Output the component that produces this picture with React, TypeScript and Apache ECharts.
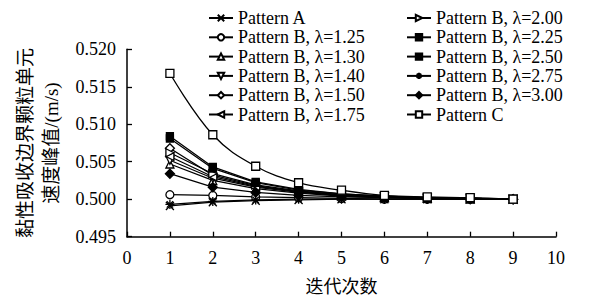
import React, { useEffect, useRef } from "react";
import * as echarts from "echarts";

const xValues = [1, 2, 3, 4, 5, 6, 7, 8, 9];

const seriesNames = [
  "Pattern A",
  "Pattern B, λ=1.25",
  "Pattern B, λ=1.30",
  "Pattern B, λ=1.40",
  "Pattern B, λ=1.50",
  "Pattern B, λ=1.75",
  "Pattern B, λ=2.00",
  "Pattern B, λ=2.25",
  "Pattern B, λ=2.50",
  "Pattern B, λ=2.75",
  "Pattern B, λ=3.00",
  "Pattern C",
];

const patternA = [0.4991, 0.4996, 0.4998, 0.4999, 0.5, 0.5, 0.5, 0.5, 0.5];
const b125 = [0.5006, 0.5005, 0.5003, 0.5002, 0.5001, 0.5, 0.5, 0.5, 0.5];
const b130 = [0.5047, 0.5025, 0.5014, 0.5008, 0.5004, 0.5002, 0.5001, 0.5, 0.5];
const b140 = [0.5052, 0.5028, 0.5016, 0.5009, 0.5005, 0.5003, 0.5001, 0.5001, 0.5];
const b150 = [0.5068, 0.5032, 0.5018, 0.501, 0.5005, 0.5003, 0.5001, 0.5001, 0.5];
const b175 = [0.5057, 0.503, 0.5017, 0.501, 0.5005, 0.5003, 0.5001, 0.5001, 0.5];
const b200 = [0.5062, 0.5034, 0.5019, 0.5011, 0.5006, 0.5003, 0.5002, 0.5001, 0.5];
const b225 = [0.5081, 0.5041, 0.5022, 0.5012, 0.5007, 0.5004, 0.5002, 0.5001, 0.5];
const b250 = [0.5084, 0.5043, 0.5023, 0.5013, 0.5007, 0.5004, 0.5002, 0.5001, 0.5];
const b275 = [0.4993, 0.4997, 0.4999, 0.5, 0.5, 0.5, 0.5, 0.5, 0.5];
const b300 = [0.5034, 0.5016, 0.5009, 0.5005, 0.5003, 0.5002, 0.5001, 0.5, 0.5];
const patternC = [0.5168, 0.5086, 0.5044, 0.5022, 0.5012, 0.5005, 0.5003, 0.5002, 0.5];

const seriesValues = [patternA, b125, b130, b140, b150, b175, b200, b225, b250, b275, b300, patternC];

const yTicks = { min: 0.495, max: 0.52, interval: 0.005 };
const xTicks = { min: 0, max: 10, interval: 1 };

const SERIF = "Liberation Serif";

const symbolDefs: { symbol: string; hollow: boolean; size: number }[] = [
  { symbol: "path://M0,0L10,10M10,0L0,10", hollow: false, size: 8 },
  { symbol: "circle", hollow: true, size: 8 },
  { symbol: "triangle", hollow: true, size: 8 },
  { symbol: "path://M0,0L10,0L5,9Z", hollow: true, size: 8 },
  { symbol: "diamond", hollow: true, size: 9 },
  { symbol: "path://M0,5L9,0L9,10Z", hollow: true, size: 8 },
  { symbol: "path://M9,5L0,0L0,10Z", hollow: true, size: 8 },
  { symbol: "rect", hollow: false, size: 7 },
  { symbol: "rect", hollow: false, size: 7 },
  { symbol: "path://M5,0L5,10M0,5L10,5M1.5,1.5L8.5,8.5M8.5,1.5L1.5,8.5", hollow: false, size: 9 },
  { symbol: "diamond", hollow: false, size: 9 },
  { symbol: "rect", hollow: true, size: 8 },
];

export default function App() {
  const ref = useRef<HTMLDivElement>(null);
  useEffect(() => {
    document.body.style.margin = "0";
    const styleEl = document.createElement("style");
    styleEl.textContent =
      '#chart-box text { font-family: "Liberation Serif", "Noto Sans CJK SC", serif !important; }';
    document.head.appendChild(styleEl);
    if (!ref.current) return;
    const chart = echarts.init(ref.current, null, { renderer: "svg" });

    const series = seriesNames.map((name, i) => {
      const d = symbolDefs[i];
      return {
        name,
        type: "line",
        data: xValues.map((x, j) => [x, seriesValues[i][j]]),
        symbol: d.symbol,
        symbolSize: d.size,
        smooth: i === 11 ? 0.4 : false,
        z: i === 11 ? 5 : 2,
        lineStyle: { color: "#000", width: 1.3 },
        itemStyle: {
          color: d.hollow ? "#fff" : "#000",
          borderColor: "#000",
          borderWidth: 1.3,
        },
      };
    });

    const legendBase = {
      orient: "vertical",
      top: 4,
      itemWidth: 24,
      itemHeight: 8,
      itemGap: 1.3,
      textStyle: { fontFamily: SERIF, fontSize: 18, lineHeight: 18, color: "#000" },
      selectedMode: false,
    };

    chart.setOption({
      animation: false,
      grid: { left: 127, right: 33, top: 49.3, bottom: 67.3 },
      legend: [
        { ...legendBase, data: seriesNames.slice(0, 6), left: 203 },
        { ...legendBase, data: seriesNames.slice(6), left: 401 },
      ],
      xAxis: {
        type: "value",
        min: xTicks.min,
        max: xTicks.max,
        interval: xTicks.interval,
        name: "迭代次数",
        nameLocation: "middle",
        nameGap: 41,
        nameTextStyle: { fontFamily: SERIF, fontSize: 18, color: "#000" },
        axisLine: { lineStyle: { color: "#000", width: 1.5 } },
        axisTick: { inside: true, length: 5, lineStyle: { color: "#000", width: 1.3 } },
        axisLabel: { fontFamily: SERIF, fontSize: 18, color: "#000", margin: 12 },
        splitLine: { show: false },
      },
      yAxis: {
        type: "value",
        min: yTicks.min,
        max: yTicks.max,
        interval: yTicks.interval,
        name: "黏性吸收边界颗粒单元\n速度峰值/(m/s)",
        nameLocation: "middle",
        nameRotate: 90,
        nameGap: 62,
        nameTextStyle: { fontFamily: SERIF, fontSize: 19, color: "#000", lineHeight: 26 },
        axisLine: { show: true, lineStyle: { color: "#000", width: 1.5 } },
        axisTick: { show: true, inside: true, length: 5, lineStyle: { color: "#000", width: 1.3 } },
        axisLabel: {
          fontFamily: SERIF,
          fontSize: 18,
          color: "#000",
          margin: 11,
          formatter: (v: number) => v.toFixed(3),
        },
        splitLine: { show: false },
      },
      series,
    });
    return () => {
      chart.dispose();
      styleEl.remove();
    };
  }, []);
  return <div id="chart-box" ref={ref} style={{ width: 589, height: 304 }} />;
}
